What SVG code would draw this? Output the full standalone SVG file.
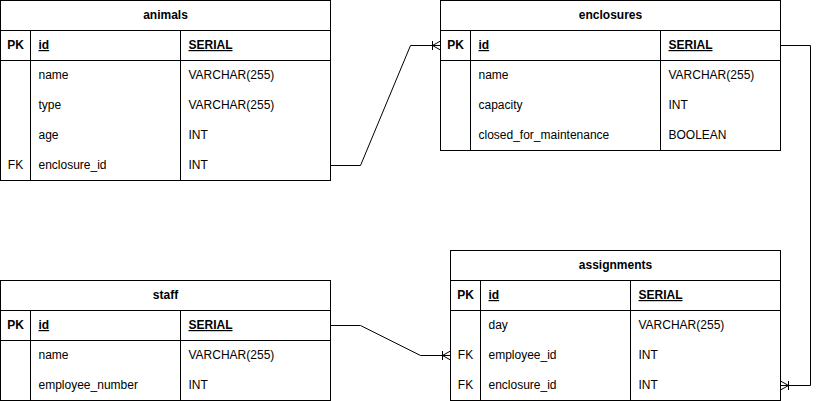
<svg xmlns="http://www.w3.org/2000/svg" width="819" height="401" viewBox="0 0 819 401">
<style>
.box{fill:#fff;stroke:#000;stroke-width:1}
.ln{fill:none;stroke:#000;stroke-width:1}
text{font-family:"Liberation Sans",Arial,Helvetica,sans-serif;font-size:12px;fill:#000}
.t{font-weight:bold;text-anchor:middle}
.k{font-weight:bold;text-anchor:middle}
.fk{text-anchor:middle}
.u{font-weight:bold;text-decoration:underline}
.c{fill:none;stroke:#000;stroke-width:1}
</style>
<defs>
<marker id="many" viewBox="0 0 10 10" refX="10" refY="5" markerWidth="10" markerHeight="10" markerUnits="userSpaceOnUse" orient="auto">
<path d="M10,0.5 L2,5 L10,9.5 M2,0.5 V9.5" fill="none" stroke="#000" stroke-width="1"/>
</marker>
</defs>
<rect width="819" height="401" fill="#fff"/>
<g transform="translate(0.5,0.5)">
<g id="animals">
<rect class="box" x="0" y="0" width="330" height="180"/>
<path class="ln" d="M0,30 H330 M0,60 H330 M30,30 V180 M180,30 V180"/>
<text class="t" x="165" y="18.5">animals</text>
<text class="k" x="15" y="48.5">PK</text>
<text class="u" x="38" y="48.5">id</text>
<text class="u" x="188" y="48.5">SERIAL</text>
<text x="38" y="78.5">name</text><text x="188" y="78.5">VARCHAR(255)</text>
<text x="38" y="108.5">type</text><text x="188" y="108.5">VARCHAR(255)</text>
<text x="38" y="138.5">age</text><text x="188" y="138.5">INT</text>
<text class="fk" x="15" y="168.5">FK</text><text x="38" y="168.5">enclosure_id</text><text x="188" y="168.5">INT</text>
</g>
<g id="enclosures">
<rect class="box" x="440" y="0" width="340" height="150"/>
<path class="ln" d="M440,30 H780 M440,60 H780 M470,30 V150 M660,30 V150"/>
<text class="t" x="610" y="18.5">enclosures</text>
<text class="k" x="455" y="48.5">PK</text>
<text class="u" x="478" y="48.5">id</text>
<text class="u" x="668" y="48.5">SERIAL</text>
<text x="478" y="78.5">name</text><text x="668" y="78.5">VARCHAR(255)</text>
<text x="478" y="108.5">capacity</text><text x="668" y="108.5">INT</text>
<text x="478" y="138.5">closed_for_maintenance</text><text x="668" y="138.5">BOOLEAN</text>
</g>
<g id="staff">
<rect class="box" x="0" y="280" width="330" height="120"/>
<path class="ln" d="M0,310 H330 M0,340 H330 M30,310 V400 M180,310 V400"/>
<text class="t" x="165" y="298.5">staff</text>
<text class="k" x="15" y="328.5">PK</text>
<text class="u" x="38" y="328.5">id</text>
<text class="u" x="188" y="328.5">SERIAL</text>
<text x="38" y="358.5">name</text><text x="188" y="358.5">VARCHAR(255)</text>
<text x="38" y="388.5">employee_number</text><text x="188" y="388.5">INT</text>
</g>
<g id="assignments">
<rect class="box" x="450" y="250" width="330" height="150"/>
<path class="ln" d="M450,280 H780 M450,310 H780 M480,280 V400 M630,280 V400"/>
<text class="t" x="615" y="268.5">assignments</text>
<text class="k" x="465" y="298.5">PK</text>
<text class="u" x="488" y="298.5">id</text>
<text class="u" x="638" y="298.5">SERIAL</text>
<text x="488" y="328.5">day</text><text x="638" y="328.5">VARCHAR(255)</text>
<text class="fk" x="465" y="358.5">FK</text><text x="488" y="358.5">employee_id</text><text x="638" y="358.5">INT</text>
<text class="fk" x="465" y="388.5">FK</text><text x="488" y="388.5">enclosure_id</text><text x="638" y="388.5">INT</text>
</g>
<g id="connectors">
<path class="c" d="M330,165 H360 L410,45 H440" marker-end="url(#many)"/>
<path class="c" d="M330,325 H360 L420,355 H450" marker-end="url(#many)"/>
<path class="c" d="M780,45 H810 V385 H780" marker-end="url(#many)"/>
</g>
</g>
</svg>
